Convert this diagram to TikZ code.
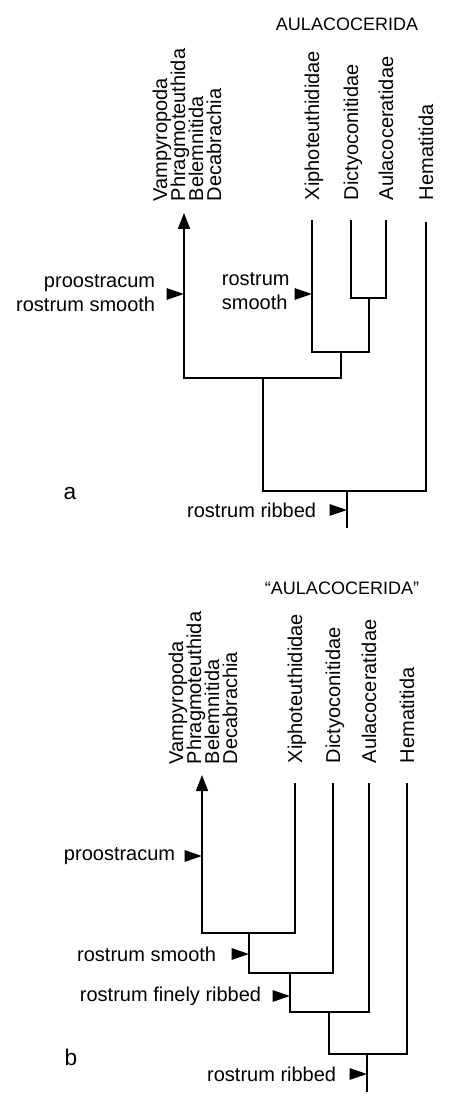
\documentclass[tikz,border=0pt]{standalone}
\usepackage{fontspec}
\setmainfont{Liberation Sans}
\usetikzlibrary{arrows.meta}
\setlength{\lineskiplimit}{-20pt}

\tikzset{every picture/.style={line width=1.3pt}}
\tikzset{
  taxon/.style={rotate=90,inner sep=0pt,font=\fontsize{15}{13.5}\selectfont},
  note/.style={inner sep=0pt,font=\fontsize{15}{18}\selectfont},
  clade/.style={inner sep=0pt,font=\fontsize{13.5}{16}\selectfont},
  flag/.style={-{Triangle[length=13pt,width=8.5pt]}},
  tipup/.style={-{Triangle[length=12pt,width=9pt]}}
}

\begin{document}
\begin{tikzpicture}[x=0.75pt,y=0.75pt,yscale=-1,xscale=1]
\path[use as bounding box] (0,0) rectangle (474,1112);

%%%%%%%%%%%%%%%%%%%% panel a
% Text Node
\node[clade] (cladeA) at (347,24) {AULACOCERIDA};
% Text Node
\node[taxon,anchor=west,align=left] (vaA) at (187,202) {Vampyropoda\\Phragmoteuthida\\Belemnitida\\Decabrachia};
\node[taxon,anchor=base west] (xiA) at (319,201) {Xiphoteuthididae};
\node[taxon,anchor=base west] (diA) at (358,201) {Dictyoconitidae};
\node[taxon,anchor=base west] (auA) at (393,201) {Aulacoceratidae};
\node[taxon,anchor=base west] (heA) at (433,201) {Hematitida};
% Text Node
\node[note,anchor=east,align=right] (prA) at (156,293) {proostracum\\rostrum smooth};
\node[note,anchor=west,align=left] (smA) at (221,291) {rostrum\\smooth};
\node[note,anchor=east] (riA) at (317,510) {rostrum ribbed};
\node[note,font=\fontsize{17}{20}\selectfont] (labA) at (70,494) {a};

% tree a
\coordinate (tVa) at (184,213);
\coordinate (tXi) at (312,220);
\coordinate (tDi) at (351,220);
\coordinate (tAu) at (386,220);
\coordinate (tHe) at (426,222);
\coordinate (nDA) at (369,298);
\coordinate (nXDA) at (341,352);
\coordinate (nVX) at (263,378);
\coordinate (nRA) at (347,491);
\coordinate (rA) at (347,528);
\draw (tDi) |- (nDA) -| (tAu);
\draw (tXi) |- (nXDA) -| (nDA);
\draw[tipup] (nVX) -| (tVa);
\draw (nVX) -| (nXDA);
\draw (nRA) -| (nVX);
\draw (nRA) -| (tHe);
\draw (nRA) -- (rA);

% flags a
\coordinate (fA1) at (184,294);
\coordinate (fA2) at (312,294);
\coordinate (fA3) at (347,510);
\draw[flag] ([xshift=-13pt]fA1) -- (fA1);
\draw[flag] ([xshift=-13pt]fA2) -- (fA2);
\draw[flag] ([xshift=-13pt]fA3) -- (fA3);

%%%%%%%%%%%%%%%%%%%% panel b
% Text Node
\node[clade] (cladeB) at (342,588) {“AULACOCERIDA”};
% Text Node
\node[taxon,anchor=west,align=left] (vaB) at (203,765) {Vampyropoda\\Phragmoteuthida\\Belemnitida\\Decabrachia};
\node[taxon,anchor=base west] (xiB) at (302,764) {Xiphoteuthididae};
\node[taxon,anchor=base west] (diB) at (340,764) {Dictyoconitidae};
\node[taxon,anchor=base west] (auB) at (376,764) {Aulacoceratidae};
\node[taxon,anchor=base west] (heB) at (414,764) {Hematitida};
% Text Node
\node[note,anchor=east] (prB) at (176,856) {proostracum};
\node[note,anchor=east] (smB) at (217,954) {rostrum smooth};
\node[note,anchor=east] (fiB) at (262,996) {rostrum finely ribbed};
\node[note,anchor=east] (riB) at (337,1074) {rostrum ribbed};
\node[note,font=\fontsize{17}{20}\selectfont] (labB) at (71,1057) {b};

% tree b
\coordinate (tVb) at (202,775);
\coordinate (tXb) at (295,783);
\coordinate (tDb) at (333,783);
\coordinate (tAb) at (369,783);
\coordinate (tHb) at (407,783);
\coordinate (n1) at (249,933);
\coordinate (n2) at (290,973);
\coordinate (n3) at (329,1012);
\coordinate (n4) at (367,1054);
\coordinate (rB) at (367,1092);
\draw[tipup] (n1) -| (tVb);
\draw (n1) -| (tXb);
\draw (n2) -| (n1);
\draw (n2) -| (tDb);
\draw (n3) -| (n2);
\draw (n3) -| (tAb);
\draw (n4) -| (n3);
\draw (n4) -| (tHb);
\draw (n4) -- (rB);

% flags b
\coordinate (fB1) at (202,856);
\coordinate (fB2) at (249,954);
\coordinate (fB3) at (290,996);
\coordinate (fB4) at (367,1074);
\draw[flag] ([xshift=-13pt]fB1) -- (fB1);
\draw[flag] ([xshift=-13pt]fB2) -- (fB2);
\draw[flag] ([xshift=-13pt]fB3) -- (fB3);
\draw[flag] ([xshift=-13pt]fB4) -- (fB4);

\end{tikzpicture}
\end{document}
